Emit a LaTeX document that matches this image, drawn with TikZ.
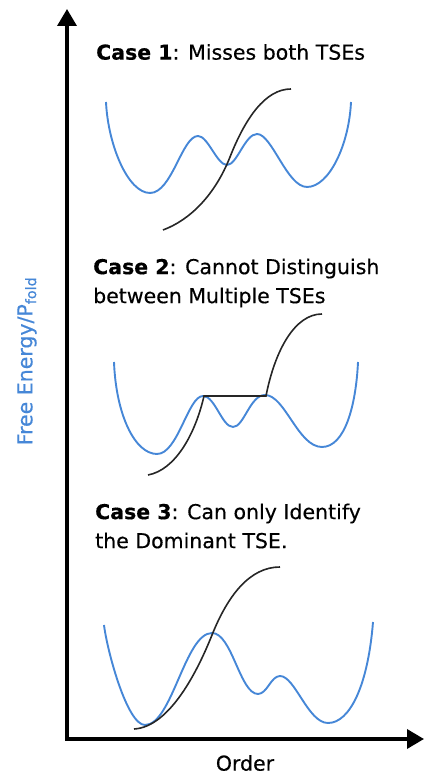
\documentclass[tikz,border=0pt]{standalone}
\usepackage{fontspec}
\setmainfont{DejaVu Sans}
\newfontfamily\labelfont{DejaVu Sans}[FakeBold=0.4]
\usetikzlibrary{arrows.meta}
\definecolor{curveblue}{RGB}{70,135,215}
\tikzset{
  axis/.style={line width=3.5pt,-{Triangle[width=19pt,length=17pt]}},
  energy/.style={draw=curveblue,line width=1.9pt},
  pfold/.style={draw=black!85,line width=1.6pt},
  casetitle/.style={anchor=west,align=left,inner sep=0pt,font=\labelfont\fontsize{20.5}{29}\selectfont},
  axislabel/.style={inner sep=0pt,font=\labelfont\fontsize{20.5}{24}\selectfont}
}
\begin{document}
\begin{tikzpicture}[x=1pt,y=1pt]
\useasboundingbox (0,0) rectangle (424,775);
% axes
\coordinate (O) at (67,36);
\coordinate (ytop) at (67,766);
\coordinate (xend) at (424,36);
\draw[axis] ([yshift=-1.75pt]O) -- (ytop);
\draw[axis] ([xshift=-1.75pt]O) -- (xend);
\node[axislabel,rotate=90,text=curveblue] (ylab) at (27,414) {Free Energy/P\textsubscript{fold}};
\node[axislabel] (xlab) at (245,12) {Order};
% titles
\node[casetitle] (t1) at (96,723) {\textbf{Case 1}: Misses both TSEs};
\node[casetitle] (t2) at (93,492) {\textbf{Case 2}: Cannot Distinguish\\between Multiple TSEs};
\node[casetitle] (t3) at (95,249) {\textbf{Case 3}: Can only Identify\\the Dominant TSE.};
% case 1
\draw[energy] (106,673) .. controls (108,630) and (128,582) .. (150,582)
  .. controls (172,582) and (182,639) .. (198,639)
  .. controls (208,639) and (217,610) .. (227,610)
  .. controls (237,610) and (245,641) .. (257,641)
  .. controls (272,641) and (287,588) .. (307,588)
  .. controls (329,588) and (349,630) .. (351,673);
\draw[pfold] (163,545) .. controls (190,555) and (215,580) .. (230,618)
  .. controls (245,656) and (265,686) .. (291,686);
% case 2
\draw[energy] (114,413) .. controls (116,360) and (135,321) .. (157,321)
  .. controls (178,321) and (188,379) .. (203,379)
  .. controls (215,379) and (222,348) .. (233,348)
  .. controls (244,348) and (250,380) .. (265,380)
  .. controls (285,380) and (298,328) .. (322,328)
  .. controls (345,328) and (356,370) .. (358,413);
\draw[pfold] (148,300) .. controls (175,305) and (195,340) .. (204,379) -- (266,379)
  .. controls (275,425) and (295,461) .. (322,461);
% case 3
\draw[energy] (104,150) .. controls (107,125) and (127,50) .. (145,50)
  .. controls (172,50) and (185,142) .. (212,142)
  .. controls (232,142) and (240,81) .. (258,81)
  .. controls (267,81) and (271,99) .. (280,99)
  .. controls (295,99) and (308,52) .. (328,52)
  .. controls (350,52) and (368,90) .. (373,153);
\draw[pfold] (134,46) .. controls (170,48) and (198,105) .. (212,140)
  .. controls (228,180) and (250,208) .. (280,208);
\end{tikzpicture}
\end{document}
